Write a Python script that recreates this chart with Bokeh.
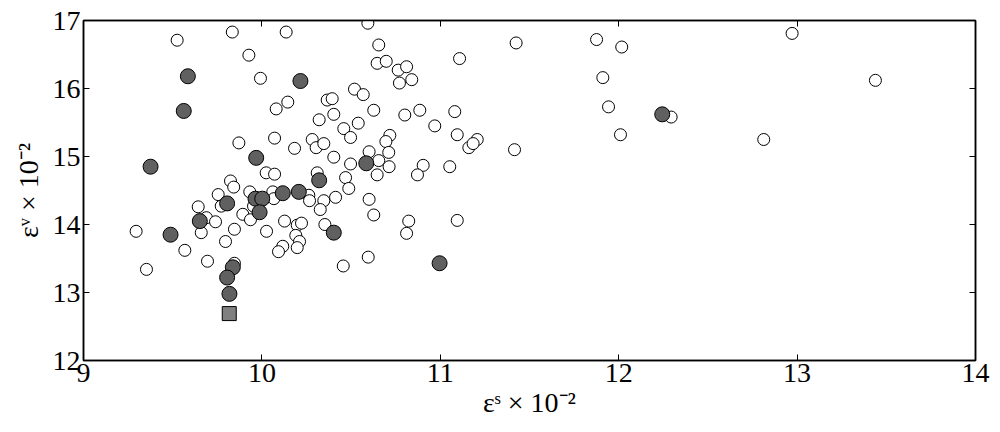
from bokeh.plotting import figure
from bokeh.models import LinearAxis, Range1d, FixedTicker, CustomJSTickFormatter
from bokeh.embed import file_html
from bokeh.resources import INLINE

# open circles
white_x = [9.525, 9.834, 10.136, 10.594, 9.927, 9.992, 10.655, 10.646, 10.145, 10.080,
           10.366, 10.394, 10.519, 10.568, 10.627, 10.321, 10.403, 10.540, 10.459, 10.497,
           9.871, 10.071, 10.183, 10.282, 10.304, 10.347, 10.403, 10.497, 10.601, 10.655,
           10.646, 10.024, 10.071, 9.824, 9.842, 10.310, 10.469, 10.487, 9.755, 9.932,
           10.061, 10.067, 10.263, 10.267, 10.347, 10.413, 10.601, 9.643, 9.772, 9.893,
           9.936, 9.689, 9.740, 9.660, 9.295, 9.846, 9.796, 10.026, 10.127, 10.198,
           10.222, 10.353, 10.327, 10.627, 10.190, 10.211, 10.117, 10.093, 10.198, 9.568,
           9.353, 9.695, 9.846, 10.456, 10.596, 10.697, 10.764, 10.811, 10.771, 10.840,
           11.108, 11.425, 10.801, 10.885, 11.081, 10.969, 11.095, 11.160, 11.207, 11.184,
           11.416, 10.717, 10.695, 10.711, 10.713, 10.904, 10.872, 11.053, 10.823, 10.811,
           11.095, 11.876, 12.017, 12.972, 11.911, 13.439, 11.943, 12.294, 12.010, 12.813,
           9.953]
white_y = [16.71, 16.83, 16.83, 16.96, 16.49, 16.15, 16.64, 16.37, 15.80, 15.70,
           15.83, 15.85, 15.99, 15.91, 15.68, 15.54, 15.62, 15.49, 15.41, 15.28,
           15.20, 15.27, 15.12, 15.25, 15.13, 15.19, 14.99, 14.89, 15.07, 14.94,
           14.73, 14.76, 14.74, 14.64, 14.55, 14.76, 14.69, 14.53, 14.44, 14.48,
           14.48, 14.38, 14.43, 14.35, 14.35, 14.40, 14.37, 14.26, 14.27, 14.15,
           14.07, 14.10, 14.04, 13.88, 13.90, 13.93, 13.75, 13.90, 14.05, 13.99,
           14.02, 14.00, 14.22, 14.14, 13.84, 13.75, 13.68, 13.60, 13.66, 13.62,
           13.34, 13.46, 13.43, 13.39, 13.52, 16.40, 16.27, 16.32, 16.08, 16.13,
           16.44, 16.67, 15.61, 15.68, 15.66, 15.45, 15.32, 15.13, 15.25, 15.19,
           15.10, 15.31, 15.22, 15.06, 14.85, 14.87, 14.73, 14.85, 14.05, 13.87,
           14.06, 16.72, 16.61, 16.81, 16.16, 16.12, 15.73, 15.58, 15.32, 15.25,
           14.27]

# filled dark circles
dark_x = [9.585, 9.562, 9.376, 9.968, 10.216, 10.585, 10.321, 10.117, 10.207, 9.805,
          9.964, 10.002, 9.987, 9.652, 9.488, 10.403, 9.837, 9.805, 9.818, 10.996, 12.244]
dark_y = [16.18, 15.67, 14.85, 14.98, 16.11, 14.90, 14.65, 14.46, 14.48, 14.31,
          14.38, 14.38, 14.18, 14.05, 13.85, 13.88, 13.37, 13.22, 12.98, 13.43, 15.62]

# grey square
square_x = [9.817]
square_y = [12.69]

x_ticks = [9, 10, 11, 12, 13, 14]
y_ticks = [12, 13, 14, 15, 16, 17]

FONT = "Liberation Serif"

p = figure(width=992, height=428, output_backend="svg", toolbar_location=None,
           x_range=Range1d(9, 14), y_range=Range1d(12, 17),
           min_border_left=83, min_border_right=17, min_border_top=20, min_border_bottom=68)

p.xgrid.visible = False
p.ygrid.visible = False
p.outline_line_color = "black"
p.outline_line_width = 1.5
p.background_fill_color = "white"
p.border_fill_color = "white"

for ax, ticks in ((p.xaxis[0], x_ticks), (p.yaxis[0], y_ticks)):
    ax.ticker = FixedTicker(ticks=ticks)
    ax.major_tick_in = 6
    ax.major_tick_out = 0
    ax.minor_tick_line_color = None
    ax.axis_line_color = "black"
    ax.axis_line_width = 1.5
    ax.major_tick_line_color = "black"
    ax.major_label_text_font = FONT
    ax.major_label_text_font_size = "28px"
    ax.major_label_text_color = "black"
    ax.major_label_standoff = 3
    ax.axis_label_text_font = FONT
    ax.axis_label_text_font_size = "28px"
    ax.axis_label_text_font_style = "normal"
    ax.axis_label_text_color = "black"

p.xaxis[0].axis_label = "εˢ × 10⁻²"
p.yaxis[0].axis_label = "εᵛ × 10⁻²"
p.xaxis[0].axis_label_standoff = 2
p.yaxis[0].axis_label_standoff = 6

blank = CustomJSTickFormatter(code="return ''")
top = LinearAxis(ticker=FixedTicker(ticks=x_ticks), formatter=blank,
                 major_tick_in=6, major_tick_out=0, minor_tick_line_color=None,
                 axis_line_width=1.5, major_label_text_font_size="1px")
right = LinearAxis(ticker=FixedTicker(ticks=y_ticks), formatter=blank,
                   major_tick_in=6, major_tick_out=0, minor_tick_line_color=None,
                   axis_line_width=1.5, major_label_text_font_size="1px")
p.add_layout(top, "above")
p.add_layout(right, "right")

p.scatter(white_x, white_y, marker="circle", size=12, fill_color="white",
          line_color="black", line_width=1)
p.scatter(dark_x, dark_y, marker="circle", size=15, fill_color="#606060",
          line_color="black", line_width=1)
p.scatter(square_x, square_y, marker="square", size=14, fill_color="#808080",
          line_color="black", line_width=1)

open("out.html", "w").write(file_html(p, INLINE))
